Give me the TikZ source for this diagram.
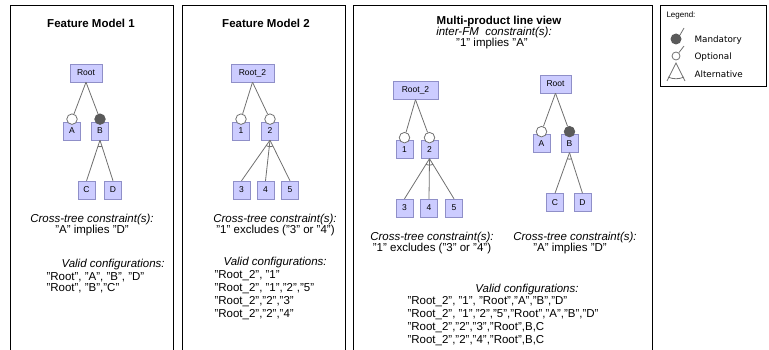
\documentclass[tikz,border=0pt]{standalone}
\usepackage{fontspec}
\setmainfont{Liberation Sans}
\newfontfamily\legendfont{DejaVu Sans}
\usepackage{tikz}
\usetikzlibrary{positioning}
\definecolor{Feat}{HTML}{CCCCFF}
\definecolor{FeatLine}{HTML}{8F8FC8}
\definecolor{Edge}{HTML}{707070}
\definecolor{Dot}{HTML}{5A5A5A}

% arc of an alternative group, clipped to the fan of its children
\newcommand{\altarc}[3]{%
\begin{scope}
\clip (#1.south) -- (#2.north) -- (#3.north) -- cycle;
\draw [edge] (#1.south) circle (6.5pt);
\end{scope}}

\begin{document}
\begin{tikzpicture}[x=1pt,y=-1pt,
  feat/.style={draw=FeatLine,fill=Feat,minimum width=17pt,minimum height=18pt,inner sep=0pt,font=\fontsize{8.5}{10}\selectfont},
  optc/.style={circle,draw=Edge,line width=0.8pt,fill=white,minimum size=10.5pt,inner sep=0pt,anchor=south,yshift=-3pt},
  manc/.style={optc,draw=Dot,fill=Dot},
  edge/.style={draw=Edge,line width=0.8pt},
  panel/.style={draw=black,line width=0.8pt},
  txt/.style={font=\fontsize{11.5}{13}\selectfont},
  ital/.style={font=\fontsize{11.5}{13}\selectfont\itshape},
  ttl/.style={font=\fontsize{11.5}{13}\selectfont\bfseries},
  cfg/.style={txt,anchor=west},
  leg/.style={font=\legendfont\fontsize{8.8}{10}\selectfont,anchor=west}]

\useasboundingbox (0,0) rectangle (769,350);
\clip (0,0) rectangle (769,350);

\draw [panel] (10,5) rectangle (173,360);
\draw [panel] (182,5) rectangle (345,360);
\draw [panel] (353,5) rectangle (652,360);
\draw [draw=black,line width=0.6pt] (660,5) rectangle (766,86);

% Feature Model 1
\node [ttl] (t1) at (91,23) {Feature Model 1};
\node [feat,minimum width=32pt] (root) at (86,73) {Root};
\node [feat] (a) at (72,131) {A};
\node [feat] (b) at (100,131) {B};
\node [feat] (c) at (86.5,190) {C};
\node [feat] (d) at (113,190) {D};
\node [optc] (ca) at (a.north) {};
\node [manc] (cb) at (b.north) {};
\draw [edge] (root.south) -- (ca);
\draw [edge] (root.south) -- (cb);
\draw [edge] (b.south) -- (c.north);
\draw [edge] (b.south) -- (d.north);
\altarc{b}{c}{d}

\node [ital] (ct1) at (92,220) {Cross-tree constraint(s):};
\node [txt] (ct1a) at (92,231) {"A" implies "D"};
\node [ital,anchor=west] (vc1) at (58,265) {Valid configurations:};
\node [cfg] (vc1a) at (43,277) {"Root", "A", "B", "D"};
\node [cfg] (vc1b) at (43,288) {"Root", "B","C"};

% Feature Model 2
\node [ttl] (t2) at (266,23) {Feature Model 2};
\node [feat,minimum width=43pt] (rootII) at (252.5,73) {Root\_2};
\node [feat] (one) at (241,131) {1};
\node [feat] (two) at (270,131) {2};
\node [feat] (three) at (241.5,190) {3};
\node [feat] (four) at (265.5,190) {4};
\node [feat] (five) at (290,190) {5};
\node [optc] (cone) at (one.north) {};
\node [optc] (ctwo) at (two.north) {};
\draw [edge] (rootII.south) -- (cone);
\draw [edge] (rootII.south) -- (ctwo);
\draw [edge] (two.south) -- (three.north);
\draw [edge] (two.south) -- (four.north);
\draw [edge] (two.south) -- (five.north);
\altarc{two}{three}{five}

\node [ital] (ct2) at (275,220) {Cross-tree constraint(s):};
\node [txt] (ct2a) at (275.5,231) {"1" excludes ("3" or "4")};
\node [ital,anchor=west] (vc2) at (220,263) {Valid configurations:};
\node [cfg] (vc2a) at (211,276) {"Root\_2", "1"};
\node [cfg] (vc2b) at (211,289) {"Root\_2", "1","2","5"};
\node [cfg] (vc2c) at (211,302) {"Root\_2","2","3"};
\node [cfg] (vc2d) at (211,315) {"Root\_2","2","4"};

% Multi-product line view
\node [ttl] (t3) at (499,22) {Multi-product line view};
\node [ital] (ifm) at (494,33) {inter-FM\ \ constraint(s):};
\node [txt] (ifma) at (492,44) {"1" implies "A"};

\node [feat,minimum width=45pt] (mrootII) at (415.5,90.5) {Root\_2};
\node [feat] (mone) at (404.5,149.5) {1};
\node [feat] (mtwo) at (429.5,149.5) {2};
\node [feat] (mthree) at (404.5,208) {3};
\node [feat] (mfour) at (429,208) {4};
\node [feat] (mfive) at (454,208) {5};
\node [optc] (mcone) at (mone.north) {};
\node [optc] (mctwo) at (mtwo.north) {};
\draw [edge] (mrootII.south) -- (mcone);
\draw [edge] (mrootII.south) -- (mctwo);
\draw [edge] (mtwo.south) -- (mthree.north);
\draw [edge] (mtwo.south) -- (mfour.north);
\draw [edge] (mtwo.south) -- (mfive.north);
\altarc{mtwo}{mthree}{mfive}

\node [feat,minimum width=31pt] (mroot) at (555.5,84) {Root};
\node [feat] (ma) at (541.5,143.5) {A};
\node [feat] (mb) at (569.5,143.5) {B};
\node [feat] (mc) at (555,202.5) {C};
\node [feat] (md) at (582.5,202.5) {D};
\node [optc] (mca) at (ma.north) {};
\node [manc] (mcb) at (mb.north) {};
\draw [edge] (mroot.south) -- (mca);
\draw [edge] (mroot.south) -- (mcb);
\draw [edge] (mb.south) -- (mc.north);
\draw [edge] (mb.south) -- (md.north);
\altarc{mb}{mc}{md}

\node [ital] (mct2) at (432,238) {Cross-tree constraint(s):};
\node [txt] (mct2a) at (432,249) {"1" excludes ("3" or "4")};
\node [ital] (mct1) at (575,238) {Cross-tree constraint(s):};
\node [txt] (mct1a) at (570,249) {"A" implies "D"};
\node [ital] (mvc) at (527,290) {Valid configurations:};
\node [cfg] (mvca) at (404,302) {"Root\_2", "1", "Root","A","B","D"};
\node [cfg] (mvcb) at (404,315) {"Root\_2", "1","2","5","Root","A","B","D"};
\node [cfg] (mvcc) at (404,328) {"Root\_2","2","3","Root",B,C};
\node [cfg] (mvcd) at (404,341) {"Root\_2","2","4","Root",B,C};

% Legend
\node [leg,font=\fontsize{8}{9}\selectfont] (lg) at (663,15) {Legend:};
\fill [Dot] (676,39) circle (5.5pt);
\draw [edge] (680,35) -- (684,28);
\node [leg] (lman) at (691,40) {Mandatory};
\draw [edge] (676,56) circle (4pt);
\draw [edge] (679,52.5) -- (684,46);
\node [leg] (lopt) at (691,57) {Optional};
\draw [edge] (667,81) -- (676,63) -- (685,81);
\draw [edge] (668,77) arc[start angle=-115,end angle=-65,radius=19pt];
\node [leg] (lalt) at (691,74) {Alternative};

\end{tikzpicture}
\end{document}
